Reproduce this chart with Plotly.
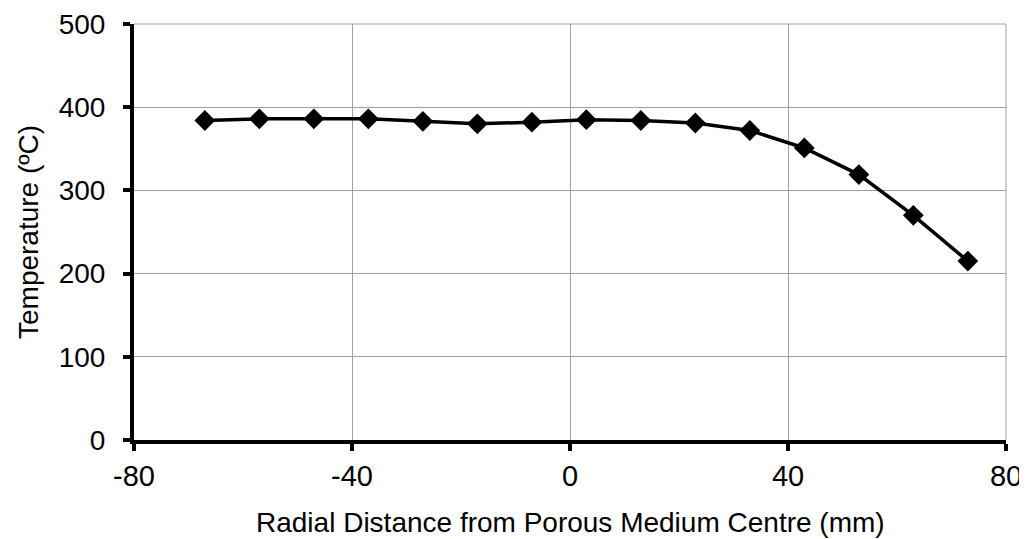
import plotly.graph_objects as go

radial_mm = [-67, -57, -47, -37, -27, -17, -7, 3, 13, 23, 33, 43, 53, 63, 73]
temperature_c = [384, 386, 386, 386, 383, 380, 382, 385, 384, 381, 372, 351, 319, 270, 215]
x_ticks = [-80, -40, 0, 40, 80]
y_ticks = [0, 100, 200, 300, 400, 500]
x_title = "Radial Distance from Porous Medium Centre (mm)"
y_title = "Temperature (ºC)"

fig = go.Figure()
fig.add_trace(go.Scatter(
    x=radial_mm, y=temperature_c, mode="lines+markers",
    line=dict(color="black", width=3.5),
    marker=dict(symbol="diamond", size=16, color="black"),
    showlegend=False,
))

font_family = "Liberation Sans, Arial, sans-serif"
fig.update_layout(
    width=1019, height=531,
    margin=dict(l=126, r=21, t=16, b=99),
    paper_bgcolor="white", plot_bgcolor="white",
    font=dict(family=font_family, color="black"),
)
fig.update_xaxes(
    range=[-80, 80], tickvals=x_ticks, ticktext=[str(v) for v in x_ticks],
    showgrid=True, gridcolor="#a0a0a0", gridwidth=1,
    showline=True, linecolor="black", linewidth=4,
    ticks="outside", ticklen=7, tickwidth=4, tickcolor="black",
    tickfont=dict(size=29), zeroline=False, automargin=False,
    ticklabeloverflow="allow",
)
fig.update_yaxes(
    range=[0, 500], tickvals=y_ticks,
    showgrid=True, gridcolor="#a0a0a0", gridwidth=1,
    showline=True, linecolor="black", linewidth=4,
    ticks="outside", ticklen=7, tickwidth=4, tickcolor="black",
    tickfont=dict(size=28), zeroline=False, automargin=False,
    ticklabeloverflow="allow", ticklabelstandoff=12,
)
fig.add_annotation(text=x_title, xref="paper", yref="paper", x=0.5, y=0,
                   yshift=-82, showarrow=False, font=dict(size=28), yanchor="middle")
fig.add_annotation(text=y_title, xref="paper", yref="paper", x=0, y=0.5,
                   xshift=-106, showarrow=False, textangle=-90, font=dict(size=28),
                   xanchor="center")
fig.add_shape(type="line", xref="paper", yref="paper", x0=1, x1=1, y0=0, y1=1,
              line=dict(color="#a0a0a0", width=1))
fig.add_shape(type="line", xref="paper", yref="paper", x0=0, x1=1, y0=1, y1=1,
              line=dict(color="#a0a0a0", width=1))
fig.write_html("out.html")
